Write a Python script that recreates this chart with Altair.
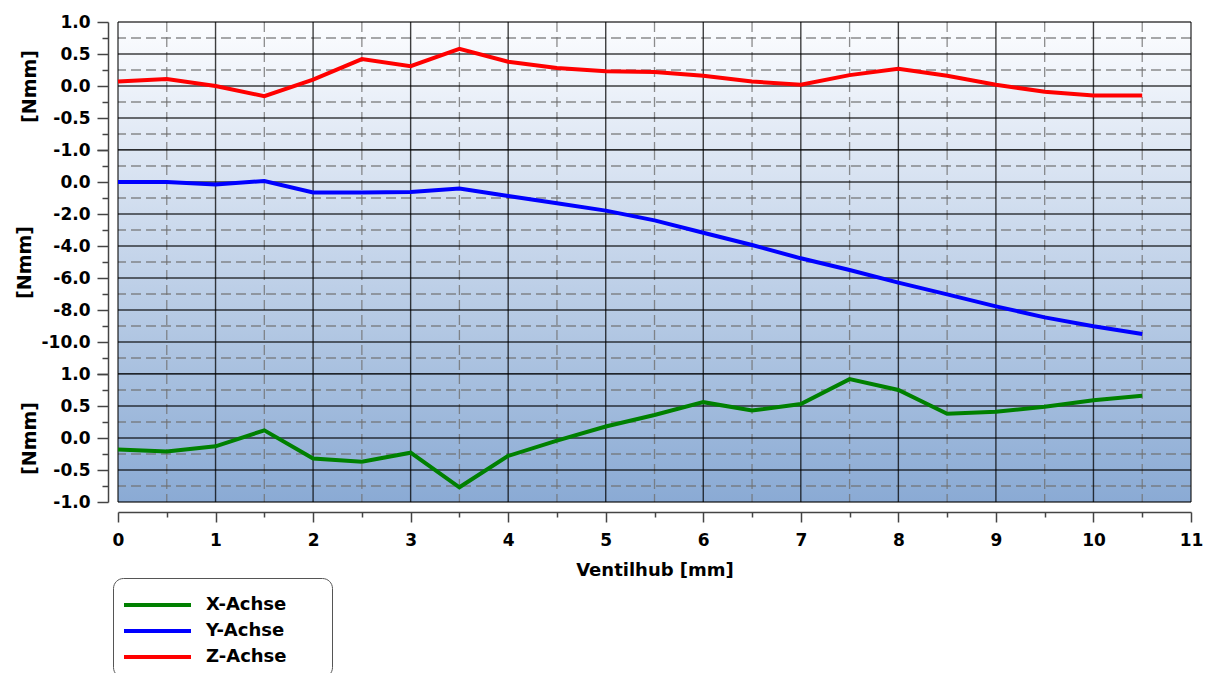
import altair as alt
import pandas as pd

# Valve lift positions [mm]
hub = [0.0, 0.5, 1.0, 1.5, 2.0, 2.5, 3.0, 3.5, 4.0, 4.5, 5.0,
       5.5, 6.0, 6.5, 7.0, 7.5, 8.0, 8.5, 9.0, 9.5, 10.0, 10.5]

# Torque about each axis [Nmm]
x_achse = [-0.18, -0.21, -0.13, 0.12, -0.32, -0.37, -0.23, -0.77, -0.28, -0.04, 0.18,
           0.36, 0.56, 0.43, 0.53, 0.92, 0.75, 0.38, 0.41, 0.49, 0.59, 0.66]
y_achse = [0.0, 0.0, -0.15, 0.06, -0.66, -0.66, -0.62, -0.40, -0.87, -1.33, -1.79,
           -2.40, -3.17, -3.94, -4.77, -5.50, -6.29, -7.02, -7.77, -8.46, -9.02, -9.50]
z_achse = [0.07, 0.11, 0.0, -0.16, 0.10, 0.42, 0.31, 0.58, 0.38, 0.28, 0.23,
           0.22, 0.16, 0.07, 0.02, 0.17, 0.27, 0.16, 0.02, -0.09, -0.15, -0.15]

series_names = ["X-Achse", "Y-Achse", "Z-Achse"]
series_colors = ["#008000", "#0000ff", "#ff0000"]

# Axis ticks
x_ticks = [0.0, 0.5, 1.0, 1.5, 2.0, 2.5, 3.0, 3.5, 4.0, 4.5, 5.0, 5.5,
           6.0, 6.5, 7.0, 7.5, 8.0, 8.5, 9.0, 9.5, 10.0, 10.5, 11.0]
unit_ticks = [-1.0, -0.75, -0.5, -0.25, 0.0, 0.25, 0.5, 0.75, 1.0]
y_ticks = [-12, -11, -10, -9, -8, -7, -6, -5, -4, -3, -2, -1, 0, 1, 2]

FONT = "DejaVu Sans"
W = 1073
H_TOP, H_MID, H_BOT = 128, 224, 128
TOTAL_H = H_TOP + H_MID + H_BOT

GRAD_TOP = (252, 253, 255)
GRAD_BOT = (138, 170, 212)


def shade(t):
    c = [round(a + (b - a) * t) for a, b in zip(GRAD_TOP, GRAD_BOT)]
    return "#%02x%02x%02x" % tuple(c)


color_scale = alt.Scale(domain=series_names, range=series_colors)
# the (invisible) title strip sets the box width and the top gap above the entries
legend = alt.Legend(
    title="_" * 72, titleFontSize=5, titlePadding=2, titleOpacity=0, titleLimit=400,
    orient="none", legendX=-5, legendY=556,
    symbolType="stroke", symbolSize=4489, symbolStrokeWidth=4, clipHeight=22,
    labelFont=FONT, labelFontSize=18, labelFontWeight="bold", labelColor="black",
    labelOffset=13, rowPadding=4, padding=9,
    strokeColor="#555555", cornerRadius=10, fillColor="white",
)

x_scale = alt.Scale(domain=[0, 11], nice=False, zero=False)

x_axis = alt.Axis(
    values=x_ticks, title="Ventilhub [mm]", grid=False, offset=10,
    labelExpr="datum.value % 1 == 0 ? format(datum.value, 'd') : ''",
    tickSize={"condition": {"test": "datum.value % 1 == 0", "value": 10}, "value": 5},
    tickColor="#444444", tickWidth=1.5, domainColor="#444444", domainWidth=1.5,
    labelFont=FONT, labelFontSize=17, labelFontWeight="bold", labelColor="black",
    labelFlush=False, labelOverlap=False, labelPadding=10,
    titleFont=FONT, titleFontSize=18, titleFontWeight="bold", titleColor="black",
    titlePadding=13,
)


def panel(values, name, y_dom, ticks, major_test, label_test, height, t0, t1,
          title_pad, show_x):
    y_scale = alt.Scale(domain=y_dom, nice=False, zero=False)
    y_axis = alt.Axis(
        values=ticks, title="[Nmm]", grid=False, offset=10,
        labelExpr=f"{label_test} ? replace(format(datum.value, '.1f'), '\u2212', '-') : ''",
        tickSize={"condition": {"test": major_test, "value": 11}, "value": 6},
        tickColor="#444444", tickWidth=1.5, domainColor="#444444", domainWidth=1.5,
        labelFont=FONT, labelFontSize=17, labelFontWeight="bold", labelColor="black",
        labelOverlap=False, labelPadding=7, labelFlush=False,
        titleFont=FONT, titleFontSize=19, titleFontWeight="bold", titleColor="black",
        titlePadding=title_pad,
    )
    xa = x_axis if show_x else None

    # gradient backdrop
    bg = alt.Chart(alt.Data(values=[{}])).mark_rect(
        fill=alt.Gradient(
            gradient="linear", x1=0, x2=0, y1=0, y2=1,
            stops=[alt.GradientStop(color=shade(t0), offset=0),
                   alt.GradientStop(color=shade(t1), offset=1)],
        )
    ).encode(x=alt.value(0), x2=alt.value(W), y=alt.value(0), y2=alt.value(height))

    vdf = pd.DataFrame({"x": x_ticks})
    vdf["major"] = vdf["x"] % 1 == 0
    v_major = alt.Chart(vdf[vdf["major"]]).mark_rule(
        color="black", strokeWidth=1.4, opacity=0.75
    ).encode(x=alt.X("x:Q", scale=x_scale, axis=xa))
    v_minor = alt.Chart(vdf[~vdf["major"]]).mark_rule(
        color="#707070", strokeWidth=1.3, opacity=0.8, strokeDash=[10, 5]
    ).encode(x=alt.X("x:Q", scale=x_scale, axis=xa))

    hdf = pd.DataFrame({"y": ticks})
    if len(ticks) == len(unit_ticks):
        hdf["major"] = (hdf["y"] * 2).round(6) % 1 == 0
    else:
        hdf["major"] = hdf["y"] % 2 == 0
    h_major = alt.Chart(hdf[hdf["major"]]).mark_rule(
        color="black", strokeWidth=1.4, opacity=0.75
    ).encode(y=alt.Y("y:Q", scale=y_scale, axis=y_axis))
    h_minor = alt.Chart(hdf[~hdf["major"]]).mark_rule(
        color="#707070", strokeWidth=1.3, opacity=0.8, strokeDash=[10, 5]
    ).encode(y=alt.Y("y:Q", scale=y_scale, axis=y_axis))

    df = pd.DataFrame({"x": hub, "y": values, "series": name})
    line = alt.Chart(df).mark_line(strokeWidth=4).encode(
        x=alt.X("x:Q", scale=x_scale, axis=xa),
        y=alt.Y("y:Q", scale=y_scale, axis=y_axis),
        color=alt.Color("series:N", scale=color_scale, legend=legend),
    )
    return alt.layer(bg, h_minor, v_minor, h_major, v_major, line).properties(
        width=W, height=height
    )


unit_major = "abs(datum.value * 2 - round(datum.value * 2)) < 0.001"
top = panel(z_achse, "Z-Achse", [-1, 1], unit_ticks, unit_major, unit_major,
            H_TOP, 0.0, H_TOP / TOTAL_H, 13, False)
mid = panel(y_achse, "Y-Achse", [-12, 2], y_ticks, "datum.value % 2 == 0",
            "datum.value % 2 == 0 && datum.value <= 0 && datum.value >= -10",
            H_MID, H_TOP / TOTAL_H, (H_TOP + H_MID) / TOTAL_H, 7, False)
bot = panel(x_achse, "X-Achse", [-1, 1], unit_ticks, unit_major, unit_major,
            H_BOT, (H_TOP + H_MID) / TOTAL_H, 1.0, 13, True)

chart = alt.vconcat(top, mid, bot, spacing=0, bounds="flush").properties(
    padding={"left": 15, "top": 13, "right": 5, "bottom": 5},
    background="white",
).configure_view(stroke=None)

chart.save("out.html", embed_options={"renderer": "svg", "actions": False})
